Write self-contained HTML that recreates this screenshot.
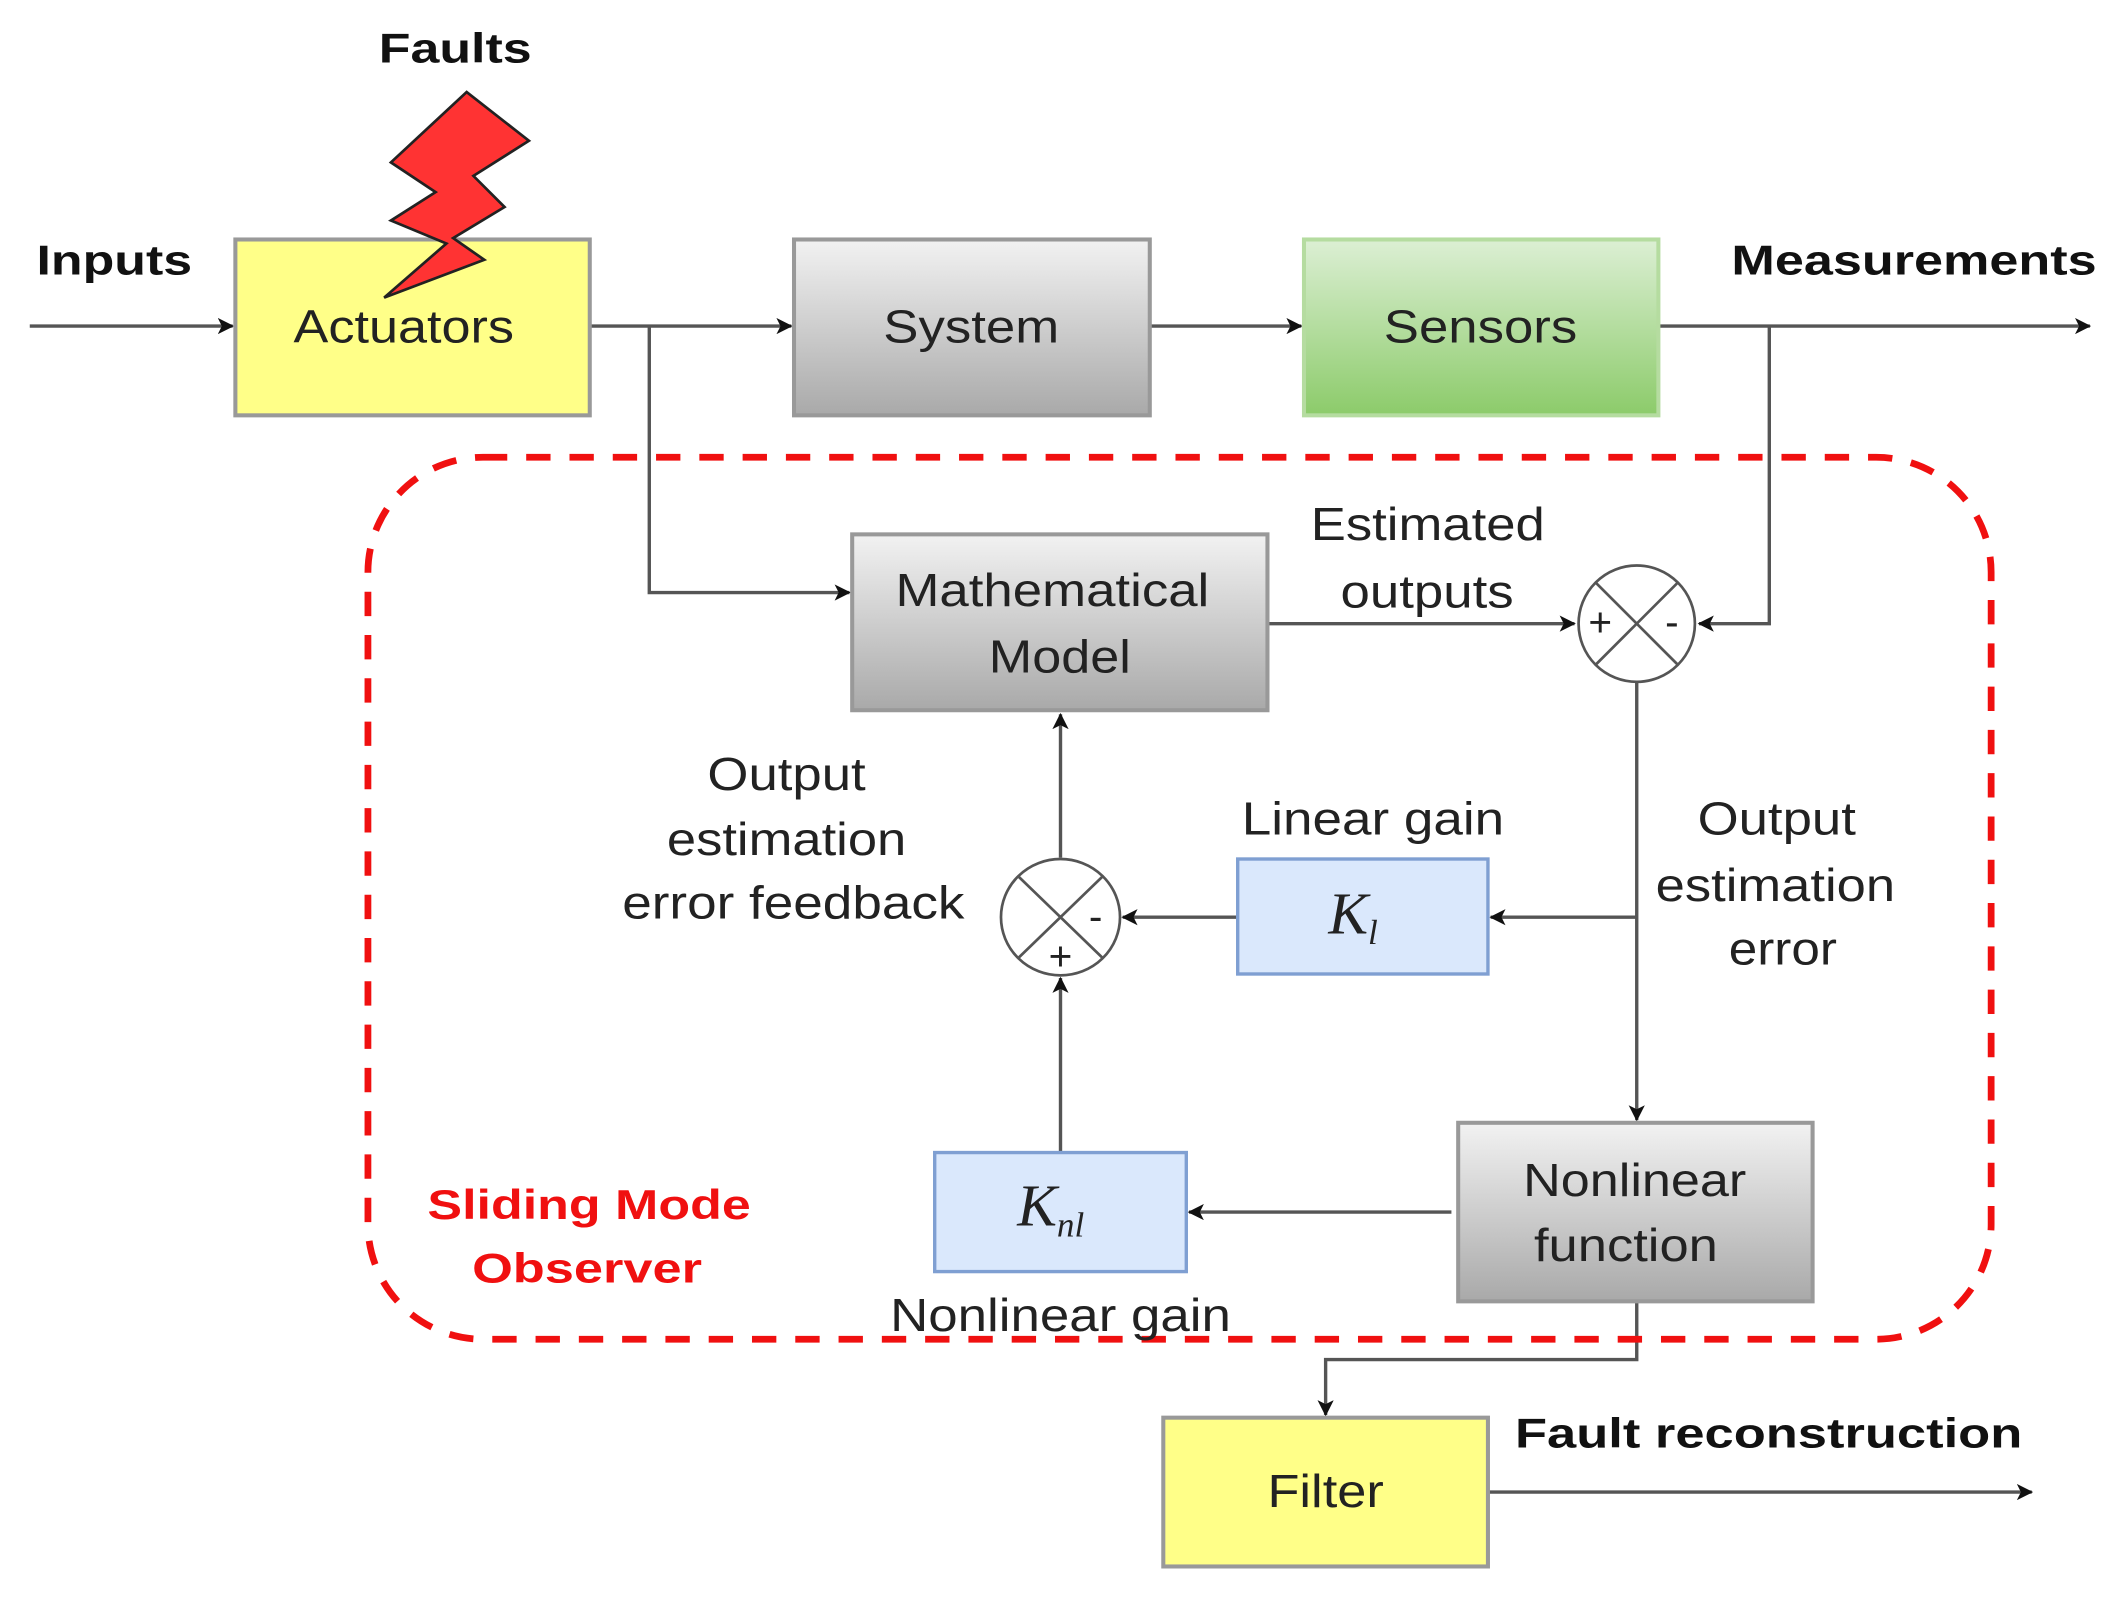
<!DOCTYPE html>
<html><head><meta charset="utf-8"><style>
html,body{margin:0;padding:0;background:#fff;}
svg{display:block}
text{font-family:"Liberation Sans",sans-serif;}
text.k{font-family:"Liberation Serif",serif;font-style:italic;}
</style></head><body>
<svg width="2121" height="1599" viewBox="0 0 1568 1182" xmlns="http://www.w3.org/2000/svg">
<defs>
<linearGradient id="g" x1="0" y1="0" x2="0" y2="1"><stop offset="0" stop-color="#f2f2f2"/><stop offset="1" stop-color="#a9a9a9"/></linearGradient>
<linearGradient id="gr" x1="0" y1="0" x2="0" y2="1"><stop offset="0" stop-color="#dcefd4"/><stop offset="1" stop-color="#8ccb6a"/></linearGradient>
<marker id="a" markerWidth="12" markerHeight="12" refX="11" refY="6" orient="auto" markerUnits="userSpaceOnUse"><path d="M0,0 L12,6 L0,12 L3,6 Z" fill="#111"/></marker>
</defs>
<g stroke="#555" stroke-width="2.5" fill="none">
<line x1="22" y1="241" x2="172" y2="241" marker-end="url(#a)"/>
<line x1="436" y1="241" x2="585" y2="241" marker-end="url(#a)"/>
<polyline points="480,241 480,438 628,438" marker-end="url(#a)"/>
<line x1="850" y1="241" x2="962" y2="241" marker-end="url(#a)"/>
<line x1="1226" y1="241" x2="1545" y2="241" marker-end="url(#a)"/>
<polyline points="1308,241 1308,461 1256,461" marker-end="url(#a)"/>
<line x1="937" y1="461" x2="1164" y2="461" marker-end="url(#a)"/>
<line x1="1210" y1="504" x2="1210" y2="828" marker-end="url(#a)"/>
<line x1="1210" y1="678" x2="1102" y2="678" marker-end="url(#a)"/>
<line x1="915" y1="678" x2="830" y2="678" marker-end="url(#a)"/>
<line x1="784" y1="634" x2="784" y2="528" marker-end="url(#a)"/>
<line x1="784" y1="852" x2="784" y2="723" marker-end="url(#a)"/>
<line x1="1073" y1="896" x2="879" y2="896" marker-end="url(#a)"/>
<polyline points="1210,962 1210,1005 980,1005 980,1046" marker-end="url(#a)"/>
<line x1="1100" y1="1103" x2="1502" y2="1103" marker-end="url(#a)"/>
</g>
<rect x="272" y="338" width="1200" height="652" rx="85" fill="none" stroke="#f01010" stroke-width="5" stroke-dasharray="18,14"/>
<rect x="174" y="177" width="262" height="130" fill="#ffff88" stroke="#999" stroke-width="3"/>
<rect x="587" y="177" width="263" height="130" fill="url(#g)" stroke="#999" stroke-width="3"/>
<rect x="964" y="177" width="262" height="130" fill="url(#gr)" stroke="#b5dca0" stroke-width="3"/>
<rect x="630" y="395" width="307" height="130" fill="url(#g)" stroke="#999" stroke-width="3"/>
<rect x="915" y="635" width="185" height="85" fill="#dae8fc" stroke="#7f9fd2" stroke-width="2.5"/>
<rect x="691" y="852" width="186" height="88" fill="#dae8fc" stroke="#7f9fd2" stroke-width="2.5"/>
<rect x="1078" y="830" width="262" height="132" fill="url(#g)" stroke="#999" stroke-width="3"/>
<rect x="860" y="1048" width="240" height="110" fill="#ffff88" stroke="#999" stroke-width="3"/>
<g stroke="#555" stroke-width="2" fill="#fff">
<ellipse cx="1210" cy="461" rx="43" ry="43"/>
<ellipse cx="784" cy="678" rx="44" ry="43"/>
</g>
<g stroke="#555" stroke-width="2">
<line x1="1180" y1="431" x2="1240" y2="491"/><line x1="1240" y1="431" x2="1180" y2="491"/>
<line x1="753" y1="648" x2="815" y2="708"/><line x1="815" y1="648" x2="753" y2="708"/>
</g>
<polygon points="345,68 391,104 350,130 373,153 335,176 358,192 284,220 330,180 289,163 322,142 289,120" fill="#ff3333" stroke="#222" stroke-width="2"/>
<g font-size="34" fill="#222">
<text x="217" y="253" textLength="163" lengthAdjust="spacingAndGlyphs">Actuators</text>
<text x="653" y="253" textLength="130" lengthAdjust="spacingAndGlyphs">System</text>
<text x="1023" y="253" textLength="143" lengthAdjust="spacingAndGlyphs">Sensors</text>
<text x="662" y="448" textLength="232" lengthAdjust="spacingAndGlyphs">Mathematical</text>
<text x="731" y="497" textLength="105" lengthAdjust="spacingAndGlyphs">Model</text>
<text x="969" y="399" textLength="173" lengthAdjust="spacingAndGlyphs">Estimated</text>
<text x="991" y="449" textLength="128" lengthAdjust="spacingAndGlyphs">outputs</text>
<text x="523" y="584" textLength="117" lengthAdjust="spacingAndGlyphs">Output</text>
<text x="493" y="632" textLength="177" lengthAdjust="spacingAndGlyphs">estimation</text>
<text x="460" y="679" textLength="253" lengthAdjust="spacingAndGlyphs">error feedback</text>
<text x="918" y="617" textLength="194" lengthAdjust="spacingAndGlyphs">Linear gain</text>
<text x="1255" y="617" textLength="117" lengthAdjust="spacingAndGlyphs">Output</text>
<text x="1224" y="666" textLength="177" lengthAdjust="spacingAndGlyphs">estimation</text>
<text x="1278" y="713" textLength="80" lengthAdjust="spacingAndGlyphs">error</text>
<text x="1126" y="884" textLength="165" lengthAdjust="spacingAndGlyphs">Nonlinear</text>
<text x="1134" y="932" textLength="136" lengthAdjust="spacingAndGlyphs">function</text>
<text x="658" y="984" textLength="252" lengthAdjust="spacingAndGlyphs">Nonlinear gain</text>
<text x="937" y="1114" textLength="86" lengthAdjust="spacingAndGlyphs">Filter</text>
</g>
<g font-size="30" fill="#222" text-anchor="middle">
<text x="1183" y="470">+</text><text x="1236" y="470">-</text>
<text x="810" y="688">-</text><text x="784" y="717">+</text>
</g>
<g fill="#222">
<text class="k" x="982" y="690" font-size="44">K<tspan font-size="26" dy="8">l</tspan></text>
<text class="k" x="752" y="906" font-size="44">K<tspan font-size="26" dy="8">nl</tspan></text>
</g>
<g font-size="31" font-weight="bold" fill="#111">
<text x="280" y="46" textLength="113" lengthAdjust="spacingAndGlyphs">Faults</text>
<text x="27" y="203" textLength="115" lengthAdjust="spacingAndGlyphs">Inputs</text>
<text x="1280" y="203" textLength="270" lengthAdjust="spacingAndGlyphs">Measurements</text>
<text x="1120" y="1070" textLength="375" lengthAdjust="spacingAndGlyphs">Fault reconstruction</text>
</g>
<g font-size="31" font-weight="bold" fill="#f01010">
<text x="316" y="901" textLength="239" lengthAdjust="spacingAndGlyphs">Sliding Mode</text>
<text x="349" y="948" textLength="170" lengthAdjust="spacingAndGlyphs">Observer</text>
</g>
</svg>
</body></html>
